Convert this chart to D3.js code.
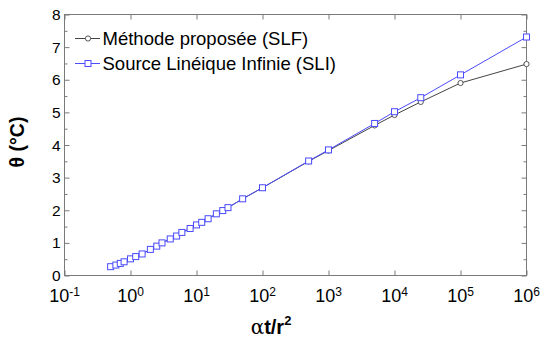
<!DOCTYPE html>
<html>
<head>
<meta charset="utf-8">
<script src="https://cdn.jsdelivr.net/npm/d3@7"></script>
<style>
  body { margin: 0; background: #fff; }
  text { font-family: "Liberation Sans", Arial, sans-serif; fill: #000; }
</style>
</head>
<body>
<div id="chart"></div>
<script>
// Data
var fo = [0.5, 0.6, 0.7, 0.8, 1, 1.2, 1.5, 2, 2.5, 3, 4, 5, 6, 8, 10, 12, 15, 20, 25, 30,
          50, 100, 500, 1000, 5000, 10000, 25000, 100000, 1000000];
var thetaSLI = [0.27, 0.32, 0.37, 0.42, 0.51, 0.58, 0.66, 0.80, 0.90, 1.00, 1.12, 1.21, 1.32, 1.44, 1.55,
                1.63, 1.74, 1.89, 1.99, 2.08, 2.35, 2.69, 3.51, 3.85, 4.66, 5.02, 5.45, 6.15, 7.31];
var thetaSLF = [0.27, 0.32, 0.37, 0.42, 0.51, 0.58, 0.66, 0.80, 0.90, 1.00, 1.12, 1.21, 1.32, 1.44, 1.55,
                1.63, 1.74, 1.89, 1.99, 2.08, 2.35, 2.69, 3.50, 3.83, 4.60, 4.92, 5.32, 5.90, 6.48];
var seriesNames = ["Méthode proposée (SLF)", "Source Linéique Infinie (SLI)"];
var xTickExps = [-1, 0, 1, 2, 3, 4, 5, 6];
var yTicks = [0, 1, 2, 3, 4, 5, 6, 7, 8];
var yMinorTicks = [0.5, 1.5, 2.5, 3.5, 4.5, 5.5, 6.5, 7.5];

function renderChart() {
  var width = 544, height = 339;
  var pLeft = 64.5, pRight = 526.5, pTop = 14.5, pBottom = 275.5;

  var xScale = d3.scaleLog().domain([0.1, 1e6]).range([pLeft, pRight]);
  var yScale = d3.scaleLinear().domain([0, 8]).range([pBottom, pTop]);

  var svg = d3.select('#chart')
              .append('svg')
              .attr('width', width)
              .attr('height', height);

  svg.append('rect').attr('width', width).attr('height', height).attr('fill', '#fff');

  var axisColor = '#7a7a7a';
  var xTickVals = xTickExps.map(function(e) { return Math.pow(10, e); });

  // Axes (ticks inward, mirrored on top / right)
  function styleAxis(g) {
    g.select('.domain').remove();
    g.selectAll('line').attr('stroke', axisColor);
    g.selectAll('text').remove();
  }
  svg.append('g').attr('transform', 'translate(0,' + pBottom + ')')
     .call(d3.axisBottom(xScale).tickValues(xTickVals).tickSize(-5).tickSizeOuter(0)).call(styleAxis);
  svg.append('g').attr('transform', 'translate(0,' + pTop + ')')
     .call(d3.axisTop(xScale).tickValues(xTickVals).tickSize(-5).tickSizeOuter(0)).call(styleAxis);
  svg.append('g').attr('transform', 'translate(' + pLeft + ',0)')
     .call(d3.axisLeft(yScale).tickValues(yTicks).tickSize(-5).tickSizeOuter(0)).call(styleAxis);
  svg.append('g').attr('transform', 'translate(' + pLeft + ',0)')
     .call(d3.axisLeft(yScale).tickValues(yMinorTicks).tickSize(-3).tickSizeOuter(0)).call(styleAxis);
  svg.append('g').attr('transform', 'translate(' + pRight + ',0)')
     .call(d3.axisRight(yScale).tickValues(yTicks).tickSize(-5).tickSizeOuter(0)).call(styleAxis);
  svg.append('g').attr('transform', 'translate(' + pRight + ',0)')
     .call(d3.axisRight(yScale).tickValues(yMinorTicks).tickSize(-3).tickSizeOuter(0)).call(styleAxis);

  svg.append('rect')
     .attr('x', pLeft).attr('y', pTop)
     .attr('width', pRight - pLeft).attr('height', pBottom - pTop)
     .attr('fill', 'none').attr('stroke', axisColor).attr('stroke-width', 1);

  // Tick labels
  svg.selectAll('.ylab').data(yTicks).enter().append('text')
     .attr('x', pLeft - 4).attr('y', function(d) { return yScale(d) + 5.5; })
     .attr('text-anchor', 'end').style('font-size', '15.5px')
     .text(function(d) { return d; });

  var xl = svg.selectAll('.xlab').data(xTickExps).enter().append('text')
     .attr('x', function(d) { return xScale(Math.pow(10, d)); })
     .attr('y', 302).attr('text-anchor', 'middle').style('font-size', '18px');
  xl.append('tspan').text('10');
  xl.append('tspan').attr('dy', -6).style('font-size', '12px').text(function(d) { return d; });

  // Axis titles
  var xt = svg.append('text').attr('x', 271).attr('y', 334).attr('text-anchor', 'middle')
              .style('font-size', '20px').style('font-weight', 'bold');
  xt.append('tspan').style('font-family', '"DejaVu Serif", serif').style('font-weight', 'normal').text('α');
  xt.append('tspan').text('t/r');
  xt.append('tspan').attr('dy', -9).style('font-size', '13px').text('2');

  svg.append('text').attr('transform', 'translate(24,142) rotate(-90)')
     .attr('text-anchor', 'middle').style('font-size', '19.5px').style('font-weight', 'bold')
     .text('θ (°C)');

  // Series
  var colSLF = '#444444', colSLI = '#4b4bff';
  var line = d3.line()
               .x(function(d) { return xScale(d[0]); })
               .y(function(d) { return yScale(d[1]); });
  var slf = fo.map(function(f, i) { return [f, thetaSLF[i]]; });
  var sli = fo.map(function(f, i) { return [f, thetaSLI[i]]; });

  svg.append('path').datum(slf).attr('d', line).attr('fill', 'none').attr('stroke', colSLF).attr('stroke-width', 1);
  svg.selectAll('.c').data(slf).enter().append('circle')
     .attr('cx', function(d) { return xScale(d[0]); })
     .attr('cy', function(d) { return yScale(d[1]); })
     .attr('r', 2.6).attr('fill', '#fff').attr('stroke', colSLF).attr('stroke-width', 0.9);

  svg.append('path').datum(sli).attr('d', line).attr('fill', 'none').attr('stroke', colSLI).attr('stroke-width', 1);
  svg.selectAll('.s').data(sli).enter().append('rect')
     .attr('x', function(d) { return xScale(d[0]) - 3; })
     .attr('y', function(d) { return yScale(d[1]) - 3; })
     .attr('width', 6).attr('height', 6)
     .attr('fill', '#fff').attr('stroke', colSLI).attr('stroke-width', 1);

  // Legend
  var leg = svg.append('g');
  [colSLF, colSLI].forEach(function(c, i) {
    var y = 38.5 + i * 25;
    leg.append('line').attr('x1', 75).attr('x2', 100).attr('y1', y).attr('y2', y)
       .attr('stroke', c).attr('stroke-width', 1);
    if (i === 0) {
      leg.append('circle').attr('cx', 88).attr('cy', y).attr('r', 2.6)
         .attr('fill', '#fff').attr('stroke', c).attr('stroke-width', 0.9);
    } else {
      leg.append('rect').attr('x', 85).attr('y', y - 3).attr('width', 6).attr('height', 6)
         .attr('fill', '#fff').attr('stroke', c);
    }
    leg.append('text').attr('x', 102.5).attr('y', y + 6.5)
       .style('font-size', '18.5px').text(seriesNames[i]);
  });
}

renderChart();
</script>
</body>
</html>
